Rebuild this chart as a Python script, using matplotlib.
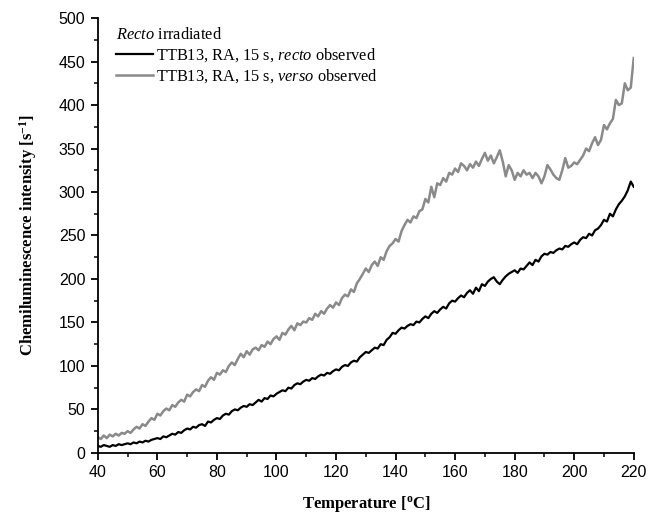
import matplotlib.pyplot as plt
import numpy as np
from matplotlib.ticker import MultipleLocator

# temperature axis, 1 degree steps
temperature = np.arange(40, 221, 1)

# recto irradiated, verso observed (grey)
verso_observed = [
  18, 16, 20, 17, 21, 19, 22, 20, 23, 22,
  25, 23, 27, 30, 28, 33, 31, 36, 40, 38,
  45, 43, 48, 51, 49, 55, 53, 58, 61, 59,
  67, 65, 70, 73, 71, 78, 76, 83, 87, 84,
  92, 90, 95, 93, 100, 104, 101, 108, 114, 110,
  117, 113, 119, 121, 118, 124, 122, 128, 125, 131,
  134, 130, 138, 136, 142, 146, 141, 149, 147, 151,
  150, 155, 153, 160, 157, 163, 160, 166, 170, 167,
  173, 170, 178, 182, 180, 188, 185, 195, 200, 206,
  212, 208, 216, 220, 215, 225, 222, 232, 238, 241,
  246, 243, 255, 262, 268, 265, 272, 270, 278, 280,
  292, 288, 306, 294, 310, 308, 316, 312, 322, 320,
  327, 323, 333, 330, 325, 332, 328, 335, 330, 338,
  345, 336, 342, 333, 340, 348, 335, 318, 331, 325,
  314, 322, 318, 325, 320, 322, 316, 322, 318, 310,
  318, 331, 326, 320, 316, 314, 325, 339, 328, 330,
  334, 332, 337, 342, 350, 347, 356, 363, 354, 360,
  377, 372, 379, 384, 406, 400, 402, 425, 417, 420,
  454]

# recto irradiated, recto observed (black)
recto_observed = [
  8, 7, 9, 8, 7, 9, 8, 10, 9, 10,
  11, 10, 12, 11, 13, 12, 14, 13, 15, 16,
  17, 16, 19, 18, 20, 22, 21, 24, 23, 26,
  28, 27, 30, 29, 32, 33, 31, 36, 35, 38,
  40, 39, 43, 45, 44, 48, 50, 49, 52, 54,
  53, 56, 55, 58, 61, 59, 63, 62, 66, 65,
  68, 70, 72, 71, 75, 74, 78, 80, 79, 82,
  84, 83, 86, 85, 88, 90, 89, 92, 91, 94,
  96, 95, 99, 101, 100, 104, 106, 105, 110, 113,
  116, 115, 118, 121, 120, 125, 124, 130, 133, 138,
  137, 141, 144, 143, 146, 148, 147, 151, 150, 154,
  157, 155, 160, 163, 161, 165, 168, 166, 172, 175,
  174, 178, 181, 179, 184, 187, 183, 190, 186, 194,
  192, 197, 200, 202, 197, 194, 199, 203, 206, 208,
  210, 207, 212, 211, 215, 219, 216, 222, 220, 226,
  229, 228, 231, 230, 233, 235, 234, 238, 237, 240,
  242, 240, 245, 248, 247, 252, 250, 256, 258, 262,
  268, 266, 275, 272, 280, 286, 290, 295, 302, 312,
  306]

legend_title = r"$\mathit{Recto}$ irradiated"
series_labels = [r"TTB13, RA, 15 s, $\mathit{recto}$ observed",
                 r"TTB13, RA, 15 s, $\mathit{verso}$ observed"]

plt.rcParams['mathtext.fontset'] = 'custom'
plt.rcParams['mathtext.rm'] = 'Liberation Serif'
plt.rcParams['mathtext.it'] = 'Liberation Serif:italic'
plt.rcParams['mathtext.bf'] = 'Liberation Serif:bold'

fig = plt.figure(figsize=(6.48, 5.17), dpi=100)
ax = fig.add_axes([0.151, 0.124, 0.827, 0.841])

ax.plot(temperature, recto_observed, color='black', lw=1.6, label=series_labels[0])
ax.plot(temperature, verso_observed, color='#8a8a8a', lw=1.8, label=series_labels[1])

ax.set_xlim(40, 220)
ax.set_ylim(0, 500)
ax.xaxis.set_major_locator(MultipleLocator(20))
ax.xaxis.set_minor_locator(MultipleLocator(10))
ax.yaxis.set_major_locator(MultipleLocator(50))
ax.yaxis.set_minor_locator(MultipleLocator(25))

for side in ['top', 'right']:
  ax.spines[side].set_visible(False)
for side in ['left', 'bottom']:
  ax.spines[side].set_linewidth(1.3)

ax.tick_params(which='major', direction='out', length=5, width=1.3,
               labelsize=11.5, pad=4)
ax.tick_params(which='minor', direction='out', length=3, width=1.1)
for lbl in ax.get_xticklabels() + ax.get_yticklabels():
  lbl.set_fontfamily('Liberation Sans')

ax.set_xlabel(r"Temperature [$^{\mathbf{o}}$C]", fontfamily='Liberation Serif',
              fontweight='bold', fontsize=12, labelpad=10)
ax.set_ylabel(r"Chemiluminescence intensity [s$^{\mathbf{-1}}$]",
              fontfamily='Liberation Serif', fontweight='bold', fontsize=12,
              labelpad=14)

leg = ax.legend(loc='upper left', bbox_to_anchor=(0.012, 1.005), frameon=False,
                title=legend_title, alignment='left',
                prop={'family': 'Liberation Serif', 'size': 11.8},
                title_fontproperties={'family': 'Liberation Serif', 'size': 11.8},
                handlelength=2.3, handletextpad=0.15, labelspacing=0.2,
                borderaxespad=0.3)

fig.savefig('out.png', dpi=100)
